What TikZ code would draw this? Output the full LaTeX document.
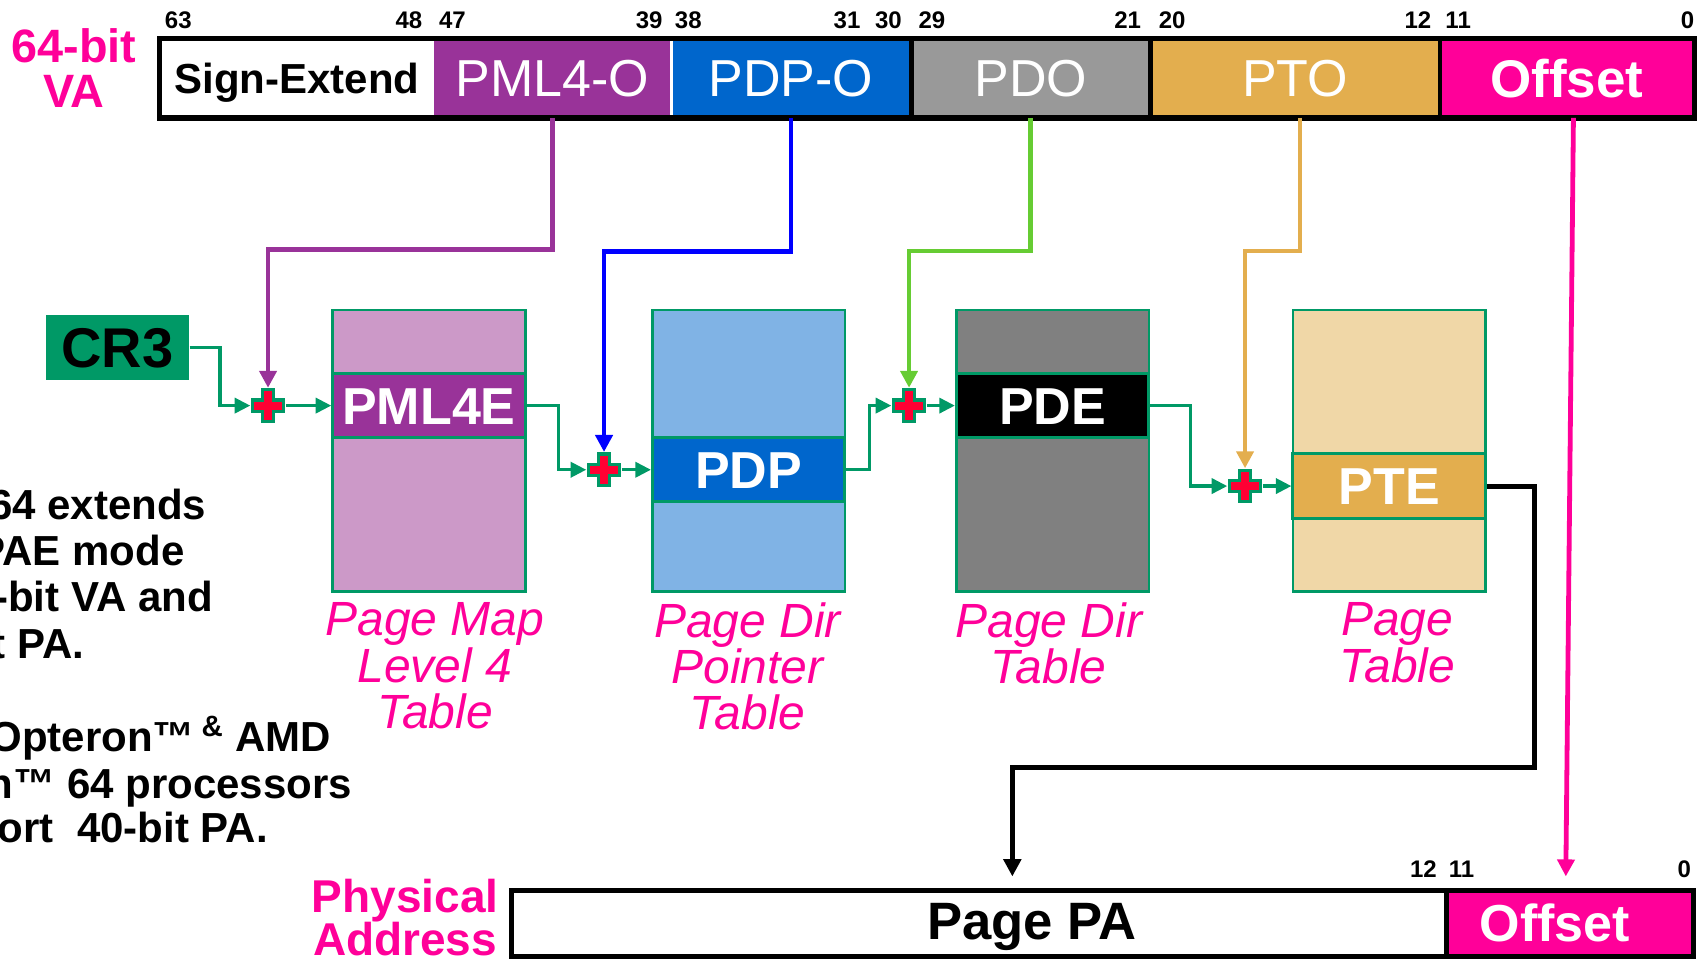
\documentclass[tikz,border=0pt]{standalone}
\usepackage{fontspec}
\setmainfont{Liberation Sans}
\usetikzlibrary{arrows.meta,calc}
\definecolor{pinkc}{HTML}{FF0099}
\definecolor{purp}{HTML}{993399}
\definecolor{lpurp}{HTML}{CC99C8}
\definecolor{bluec}{HTML}{0066CC}
\definecolor{lblue}{HTML}{80B3E5}
\definecolor{grayf}{HTML}{999999}
\definecolor{dgray}{HTML}{808080}
\definecolor{oran}{HTML}{E3AE4E}
\definecolor{loran}{HTML}{F0D7A7}
\definecolor{grn}{HTML}{009966}
\definecolor{lgrn}{HTML}{66CC33}
\definecolor{bline}{HTML}{0000FF}
\definecolor{redc}{HTML}{FF0033}
\def\uu{0.5437pt}
\begin{document}
\begin{tikzpicture}[x=\uu,y=-\uu,
  field/.style={rectangle, inner sep=0pt, minimum height=72*\uu, text depth=0pt},
  pfield/.style={rectangle, inner sep=0pt, minimum height=60*\uu},
  tbl/.style={rectangle, draw=grn, line width=1.3pt, inner sep=0pt, minimum width=177*\uu, minimum height=259*\uu},
  entry/.style={rectangle, draw=grn, line width=1.5pt, inner sep=0pt, minimum width=177*\uu, minimum height=59*\uu, text=white, font=\bfseries\fontsize{26}{26}\selectfont, text height=18.6pt, text depth=0pt},
  plusn/.style={rectangle, inner sep=0pt, minimum width=32*\uu, minimum height=32*\uu},
  bitlbl/.style={font=\bfseries\fontsize{12}{12}\selectfont, anchor=base, inner sep=0pt},
  pinklbl/.style={text=pinkc, font=\itshape\fontsize{24}{23.1}\selectfont, align=center, anchor=north, inner sep=0pt},
  lefttxt/.style={font=\bfseries\fontsize{21}{21}\selectfont, anchor=base east, inner sep=0pt},
  gconn/.style={draw=grn, line width=1.6pt, -{Triangle[width=7.6pt,length=7.8pt]}},
  vconn/.style={line width=2.4pt, -{Triangle[width=8.5pt,length=8.5pt]}},
  kconn/.style={draw=black, line width=2.5pt, -{Triangle[width=8.7pt,length=8.7pt]}}
]
\useasboundingbox (0,0) rectangle (1568,884);

% ---- 64-bit VA bar ----
\node[text=pinkc, font=\bfseries\fontsize{23.4}{22.5}\selectfont, align=center, anchor=north, inner sep=0pt] (valbl) at (68,26) {64-bit\\VA};
\node[field, fill=white, minimum width=252*\uu, font=\bfseries\fontsize{21}{21}\selectfont, text height=15pt] (se) at (273,72) {Sign-Extend};
\node[field, fill=purp, text=white, minimum width=218*\uu, font=\fontsize{26}{26}\selectfont, text height=18.6pt] (pml4o) at (508,72) {PML4-O};
\node[field, fill=bluec, text=white, minimum width=221*\uu, font=\fontsize{26}{26}\selectfont, text height=18.6pt] (pdpo) at (727.5,72) {PDP-O};
\node[field, fill=grayf, text=white, minimum width=220*\uu, font=\fontsize{26}{26}\selectfont, text height=18.6pt] (pdo) at (948,72) {PDO};
\node[field, fill=oran, text=white, minimum width=266*\uu, font=\fontsize{26}{26}\selectfont, text height=18.6pt] (pto) at (1191,72) {PTO};
\node[field, fill=pinkc, text=white, minimum width=234*\uu, font=\bfseries\fontsize{26.5}{26.5}\selectfont, text height=19pt] (off) at (1441,72) {Offset};
\draw[white, line width=1.8pt] (pml4o.north east) -- (pml4o.south east);
\draw[black, line width=2.4pt] (pdpo.north east) -- (pdpo.south east);
\draw[black, line width=2.4pt] (pdo.north east) -- (pdo.south east);
\draw[black, line width=2.4pt] (pto.north east) -- (pto.south east);
\draw[black, line width=2.7pt] (se.north west) rectangle (off.south east);

\node[bitlbl] (b63) at (164,26.5) {63};
\node[bitlbl] (b48) at (376,26.5) {48};
\node[bitlbl] (b47) at (416,26.5) {47};
\node[bitlbl] (b39) at (597,26.5) {39};
\node[bitlbl] (b38) at (633,26.5) {38};
\node[bitlbl] (b31) at (779,26.5) {31};
\node[bitlbl] (b30) at (817,26.5) {30};
\node[bitlbl] (b29) at (857,26.5) {29};
\node[bitlbl] (b21) at (1037,26.5) {21};
\node[bitlbl] (b20) at (1078,26.5) {20};
\node[bitlbl] (b12) at (1304,26.5) {12};
\node[bitlbl] (b11) at (1341,26.5) {11};
\node[bitlbl] (b0) at (1552,26.5) {0};

% ---- CR3 ----
\node[rectangle, fill=grn, inner sep=0pt, minimum width=132*\uu, minimum height=59*\uu, font=\bfseries\fontsize{28}{28}\selectfont, text height=20pt, text depth=0pt] (cr3) at (108,319.5) {CR3};

% ---- tables ----
\node[tbl, fill=lpurp] (t1) at (394.5,414.5) {};
\node[tbl, fill=lblue] (t2) at (688.5,414.5) {};
\node[tbl, fill=dgray] (t3) at (968,414.5) {};
\node[tbl, fill=loran] (t4) at (1277.5,414.5) {};
\node[entry, fill=purp] (e1) at (394.5,373) {PML4E};
\node[entry, fill=bluec] (e2) at (688.5,432) {PDP};
\node[entry, fill=black] (e3) at (968,373) {PDE};
\node[entry, fill=oran] (e4) at (1277.5,447) {PTE};

\node[pinklbl] (l1) at (400,554) {Page Map\\Level 4\\Table};
\node[pinklbl] (l2) at (687.5,554) {Page Dir\\Pointer\\Table};
\node[pinklbl] (l3) at (964.5,554) {Page Dir\\Table};
\node[pinklbl] (l4) at (1285,554) {Page\\Table};

% ---- adders ----
\node[plusn] (p1) at (246.5,373) {};
\node[plusn] (p2) at (555.5,432) {};
\node[plusn] (p3) at (836,373) {};
\node[plusn] (p4) at (1145,447) {};
\foreach \q in {p1,p2,p3,p4}
  \draw[draw=grn, fill=redc, line width=1.6pt, shift={(\q.center)}]
    (-14.5,-5.2) -- (-5.2,-5.2) -- (-5.2,-14.5) -- (5.2,-14.5) -- (5.2,-5.2) -- (14.5,-5.2)
    -- (14.5,5.2) -- (5.2,5.2) -- (5.2,14.5) -- (-5.2,14.5) -- (-5.2,5.2) -- (-14.5,5.2) -- cycle;

% ---- physical address bar ----
\node[pfield, fill=white, minimum width=859*\uu] (ppa) at (900.5,849) {};
\node[pfield, fill=pinkc, minimum width=227*\uu] (poff) at (1443.5,849) {};
\draw[black, line width=2.5pt] (ppa.north east) -- (ppa.south east);
\draw[black, line width=2.5pt] (ppa.north west) rectangle (poff.south east);
\node[font=\bfseries\fontsize{26.3}{26.3}\selectfont, anchor=base, inner sep=0pt] (ppatxt) at (949,864) {Page PA};
\node[font=\bfseries\fontsize{26}{26}\selectfont, text=white, anchor=base, inner sep=0pt] (pofftxt) at (1430,866) {Offset};
\node[bitlbl] (c12) at (1309,807) {12};
\node[bitlbl] (c11) at (1344,807) {11};
\node[bitlbl] (c0) at (1549,807) {0};
\node[text=pinkc, font=\bfseries\fontsize{23}{21.5}\selectfont, align=center, anchor=north, inner sep=0pt] (phys) at (372.5,808) {Physical\\Address};

% ---- left notes ----
\node[lefttxt] (n1) at (190,477.6) {64 extends};
\node[lefttxt] (n2) at (170,520.5) {PAE mode};
\node[lefttxt] (n3) at (196,562.5) {-bit VA and};
\node[lefttxt] (n4) at (78,605.4) {t PA.};
\node[lefttxt] (n5) at (305,691.3) {Opteron™\,\textsuperscript{\&} AMD};
\node[lefttxt] (n6) at (324,734.2) {n™ 64 processors};
\node[lefttxt] (n7) at (246.6,775) {ort\ \ 40-bit PA.};

% ---- connectors ----
\draw[vconn, draw=purp] (pml4o.south) -- ++(0,121) -| (p1);
\draw[vconn, draw=bline] (pdpo.south) -- ++(0,123) -| (p2);
\draw[vconn, draw=lgrn] (pdo.south) -- ++(0,122.5) -| (p3);
\draw[vconn, draw=oran] ($(pto.south)+(4.5,0)$) -- ++(0,122.5) -| (p4);
\coordinate (offt) at (1440,806);
\draw[vconn, draw=pinkc] ($(off.south)+(6,0)$) -- (offt);

\draw[gconn] (cr3.east) -- ++(28,0) |- (p1);
\draw[gconn] (p1) -- (e1);
\draw[gconn] (e1.east) -- ++(29,0) |- (p2);
\draw[gconn] (p2) -- (e2);
\draw[gconn] (e2.east) -- ++(21,0) |- (p3);
\draw[gconn] (p3) -- (e3);
\draw[gconn] (e3.east) -- ++(37,0) |- (p4);
\draw[gconn] (p4) -- (e4);

\coordinate (pat) at (931,806);
\draw[kconn] (e4.east) -- ++(44,0) |- ($(pat)+(0,-100)$) -- (pat);
\end{tikzpicture}
\end{document}
